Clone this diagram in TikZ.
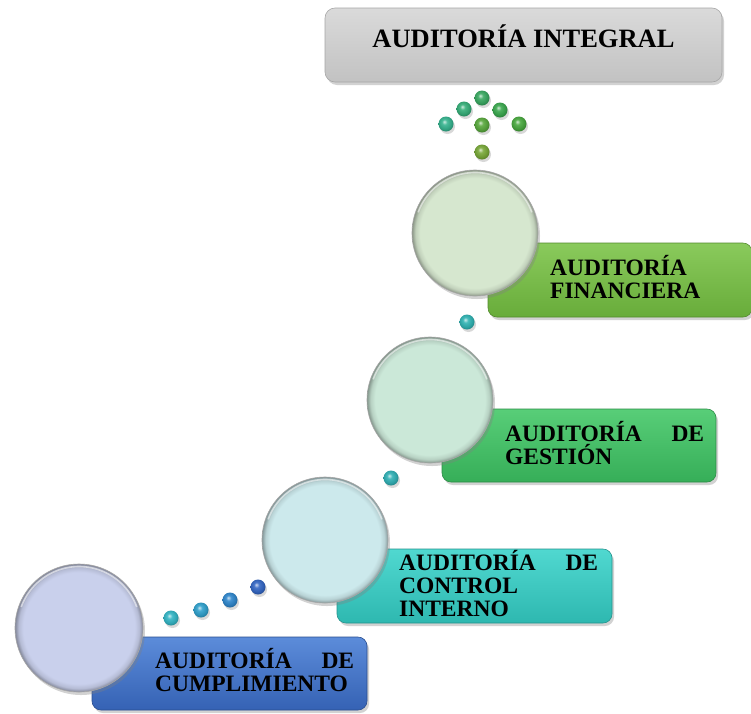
\documentclass[tikz,border=0pt]{standalone}
\usepackage{fontspec}
\setmainfont{Liberation Serif}
\usetikzlibrary{shadows}
\definecolor{cTitleT}{HTML}{DADADA}
\definecolor{cTitleB}{HTML}{C2C2C2}
\definecolor{cBlueT}{HTML}{5C8CDA}
\definecolor{cBlueB}{HTML}{3562B4}
\definecolor{cTurqT}{HTML}{50D8D0}
\definecolor{cTurqB}{HTML}{2EB8B0}
\definecolor{cGreenT}{HTML}{58CE78}
\definecolor{cGreenB}{HTML}{36AE58}
\definecolor{cLimeT}{HTML}{8ACA5C}
\definecolor{cLimeB}{HTML}{68AC3A}
\definecolor{cCircA}{HTML}{C9D0EC}
\definecolor{cCircB}{HTML}{CCE9EC}
\definecolor{cCircC}{HTML}{CBE8D8}
\definecolor{cCircD}{HTML}{D6E7CF}
\colorlet{ballc}{teal}
\colorlet{bevc}{gray}
\pgfdeclareradialshading[ballc]{myball}{\pgfpoint{-6bp}{8bp}}{color(0bp)=(ballc!25!white); color(9bp)=(ballc!90!white); color(22bp)=(ballc!90!black); color(34bp)=(ballc!60!black); color(50bp)=(ballc!60!black)}
\pgfdeclareradialshading[bevc]{bevel}{\pgfpoint{0bp}{0bp}}{color(0bp)=(bevc); color(21.8bp)=(bevc); color(23.6bp)=(bevc!90!black); color(25bp)=(bevc!65!black); color(50bp)=(bevc!65!black)}
\tikzset{
  shd/.style={drop shadow={opacity=0.35, shadow xshift=2pt, shadow yshift=-3pt}},
  stagebox/.style={rectangle, rounded corners=9pt, inner sep=0pt, draw=#1, line width=0.6pt, shd},
  bigcirc/.style={circle, inner sep=0pt, minimum size=126pt, /utils/exec={\colorlet{bevc}{#1}}, shading=bevel, draw=black!35, line width=0.6pt, shd},
  ballnode/.style={circle, inner sep=0pt, minimum size=15pt, /utils/exec={\colorlet{ballc}{#1}}, shading=myball,
     drop shadow={opacity=0.3, shadow xshift=1.5pt, shadow yshift=-2.5pt}},
  hilite/.style={draw=white, opacity=0.55, line width=1.6pt},
  lbl/.style={font=\fontsize{23.5}{23}\selectfont\bfseries, text width=199pt, align=left, inner sep=0pt, anchor=base west},
}
\begin{document}
\begin{tikzpicture}[x=1pt,y=-1pt]
\useasboundingbox (0,0) rectangle (751,713);
\fill[white] (0,0) rectangle (751,713);
% title
\node[stagebox=black!35, rounded corners=10pt, minimum width=397pt, minimum height=74pt,
      top color=cTitleT, bottom color=cTitleB] (title) at (523.5,45) {};
\node[font=\fontsize{26.5}{28}\selectfont\bfseries, inner sep=0pt, anchor=base] (titletext) at (523.5,47) {AUDITORÍA INTEGRAL};
% stage boxes
\node[stagebox=cLimeB!80!black, minimum width=264pt, minimum height=74pt, top color=cLimeT, bottom color=cLimeB] (bfin) at (620,280) {};
\node[stagebox=cGreenB!80!black, minimum width=274pt, minimum height=73pt, top color=cGreenT, bottom color=cGreenB] (bges) at (579,445.5) {};
\node[stagebox=cTurqB!80!black, minimum width=275pt, minimum height=74pt, top color=cTurqT, bottom color=cTurqB] (bcon) at (474.5,586) {};
\node[stagebox=cBlueB!80!black, minimum width=275pt, minimum height=73pt, top color=cBlueT, bottom color=cBlueB] (bcum) at (229.5,673.5) {};
% circles
\node[bigcirc=cCircD] (cfin) at (475,233) {};
\node[bigcirc=cCircC] (cges) at (430,400) {};
\node[bigcirc=cCircB] (ccon) at (325,540) {};
\node[bigcirc=cCircA, minimum size=128pt] (ccum) at (79,628) {};
\foreach \c/\r in {cfin/60.5, cges/60.5, ccon/60.5, ccum/61.5}{
  \draw[hilite] (\c.center) ++(-160:\r) arc[start angle=-160, end angle=-20, radius=\r];
}
% labels
\node[lbl] (tfin) at (550,275) {AUDITORÍA\\FINANCIERA};
\node[lbl] (tges) at (505,441) {AUDITORÍA\hfill DE\\GESTIÓN};
\node[lbl] (tcon) at (399,570) {AUDITORÍA\hfill DE\\CONTROL\\INTERNO};
\node[lbl] (tcum) at (155,668) {AUDITORÍA\hfill DE\\CUMPLIMIENTO};
% arrow of green balls
\node[ballnode={rgb,255:red,56;green,168;blue,96}] (g1) at (482,98) {};
\node[ballnode={rgb,255:red,53;green,174;blue,120}] (g2) at (464,109) {};
\node[ballnode={rgb,255:red,58;green,168;blue,78}] (g3) at (500,110) {};
\node[ballnode={rgb,255:red,53;green,179;blue,142}] (g4) at (446,124) {};
\node[ballnode={rgb,255:red,88;green,168;blue,60}] (g5) at (482,125) {};
\node[ballnode={rgb,255:red,72;green,168;blue,62}] (g6) at (519,124) {};
\node[ballnode={rgb,255:red,120;green,168;blue,56}] (g7) at (482,152) {};
% step balls
\node[ballnode={rgb,255:red,47;green,179;blue,179}] (s1) at (467,322) {};
\node[ballnode={rgb,255:red,48;green,176;blue,181}] (s2) at (391,478) {};
\node[ballnode={rgb,255:red,51;green,181;blue,197}] (s3) at (171,618) {};
\node[ballnode={rgb,255:red,47;green,160;blue,204}] (s4) at (201,610) {};
\node[ballnode={rgb,255:red,46;green,134;blue,204}] (s5) at (230,600) {};
\node[ballnode={rgb,255:red,51;green,102;blue,196}] (s6) at (258,587) {};
\end{tikzpicture}
\end{document}
